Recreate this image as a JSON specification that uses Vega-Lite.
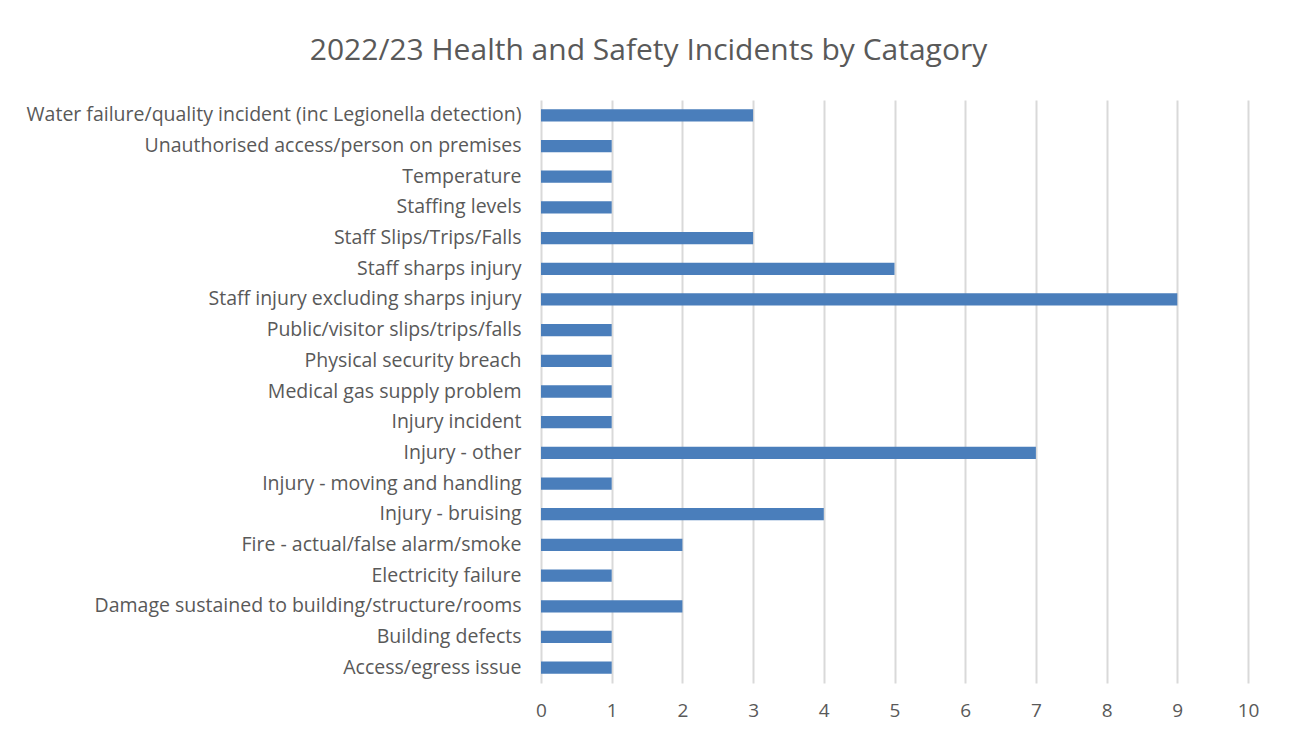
{
  "$schema": "https://vega.github.io/schema/vega-lite/v6.json",
  "width": 707,
  "height": 583,
  "autosize": {"type": "none"},
  "padding": {"left": 541, "top": 100, "right": 41, "bottom": 50},
  "background": "#ffffff",
  "title": {
    "text": "2022/23 Health and Safety Incidents by Catagory",
    "anchor": "middle",
    "dx": -246,
    "offset": 34,
    "font": "Open Sans",
    "fontSize": 30,
    "fontWeight": "normal",
    "color": "#595959"
  },
  "data": {
    "values": [
      {"category": "Water failure/quality incident (inc Legionella detection)", "count": 3},
      {"category": "Unauthorised access/person on premises", "count": 1},
      {"category": "Temperature", "count": 1},
      {"category": "Staffing levels", "count": 1},
      {"category": "Staff Slips/Trips/Falls", "count": 3},
      {"category": "Staff sharps injury", "count": 5},
      {"category": "Staff injury excluding sharps injury", "count": 9},
      {"category": "Public/visitor slips/trips/falls", "count": 1},
      {"category": "Physical security breach", "count": 1},
      {"category": "Medical gas supply problem", "count": 1},
      {"category": "Injury incident", "count": 1},
      {"category": "Injury - other", "count": 7},
      {"category": "Injury - moving and handling ", "count": 1},
      {"category": "Injury - bruising", "count": 4},
      {"category": "Fire - actual/false alarm/smoke", "count": 2},
      {"category": "Electricity failure", "count": 1},
      {"category": "Damage sustained to building/structure/rooms", "count": 2},
      {"category": "Building defects", "count": 1},
      {"category": "Access/egress issue", "count": 1}
    ]
  },
  "mark": {"type": "bar", "color": "#4a7ebb"},
  "encoding": {
    "y": {
      "field": "category",
      "type": "nominal",
      "sort": null,
      "scale": {"paddingInner": 0.6, "paddingOuter": 0.3},
      "axis": {
        "title": null,
        "ticks": false,
        "domain": false,
        "grid": false,
        "labelPadding": 20,
        "labelFont": "Open Sans",
        "labelFontSize": 19.5,
        "labelColor": "#595959",
        "labelLimit": 600
      }
    },
    "x": {
      "field": "count",
      "type": "quantitative",
      "scale": {"domain": [0, 10], "nice": false},
      "axis": {
        "title": null,
        "values": [0,1,2,3,4,5,6,7,8,9,10],
        "ticks": false,
        "domain": false,
        "grid": true,
        "gridColor": "#d9d9d9",
        "gridWidth": 2,
        "labelPadding": 18,
        "labelFont": "Open Sans",
        "labelFontSize": 19,
        "labelColor": "#595959",
        "labelFlush": false
      }
    }
  },
  "config": {"view": {"stroke": null}}
}
